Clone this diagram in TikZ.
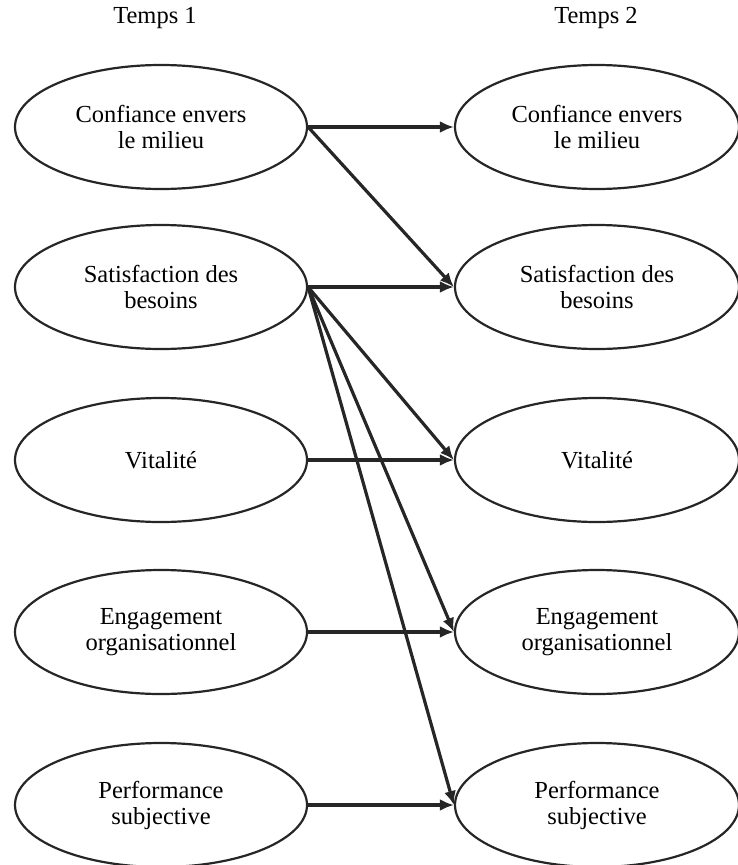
\documentclass[tikz,border=0pt]{standalone}
\usepackage{fontspec}
\setmainfont{Liberation Serif}
\usetikzlibrary{shapes.geometric,arrows.meta}
\begin{document}
\begin{tikzpicture}[x=1pt,y=-1pt,
  var/.style={draw=black!85, line width=2.2pt, ellipse, inner sep=0pt,
    minimum width=292pt, minimum height=124pt, align=center,
    font=\fontsize{24.5}{26}\selectfont},
  lbl/.style={font=\fontsize{24.5}{26}\selectfont},
  arr/.style={draw=black!85, line width=3.2pt, -{Latex[length=14pt,width=12pt]}}]
\useasboundingbox (0,0) rectangle (737,865);
\node[lbl] (t1) at (155,18) {Temps 1};
\node[lbl] (t2) at (596,18) {Temps 2};
\node[var] (c1) at (161,127) {Confiance envers\\le milieu};
\node[var] (s1) at (161,287) {Satisfaction des\\besoins};
\node[var] (v1) at (161,460) {Vitalité};
\node[var] (e1) at (161,632) {Engagement\\organisationnel};
\node[var] (p1) at (161,805) {Performance\\subjective};
\node[var, minimum width=284pt] (c2) at (597,127) {Confiance envers\\le milieu};
\node[var, minimum width=284pt] (s2) at (597,287) {Satisfaction des\\besoins};
\node[var, minimum width=284pt] (v2) at (597,460) {Vitalité};
\node[var, minimum width=284pt] (e2) at (597,632) {Engagement\\organisationnel};
\node[var, minimum width=284pt] (p2) at (597,805) {Performance\\subjective};
\draw[arr] (c1.east) -- (c2.west);
\draw[arr] (c1.east) -- (s2.west);
\draw[arr] (s1.east) -- (s2.west);
\draw[arr] (s1.east) -- (v2.west);
\draw[arr] (s1.east) -- (e2.west);
\draw[arr] (s1.east) -- (p2.west);
\draw[arr] (v1.east) -- (v2.west);
\draw[arr] (e1.east) -- (e2.west);
\draw[arr] (p1.east) -- (p2.west);
\end{tikzpicture}
\end{document}
